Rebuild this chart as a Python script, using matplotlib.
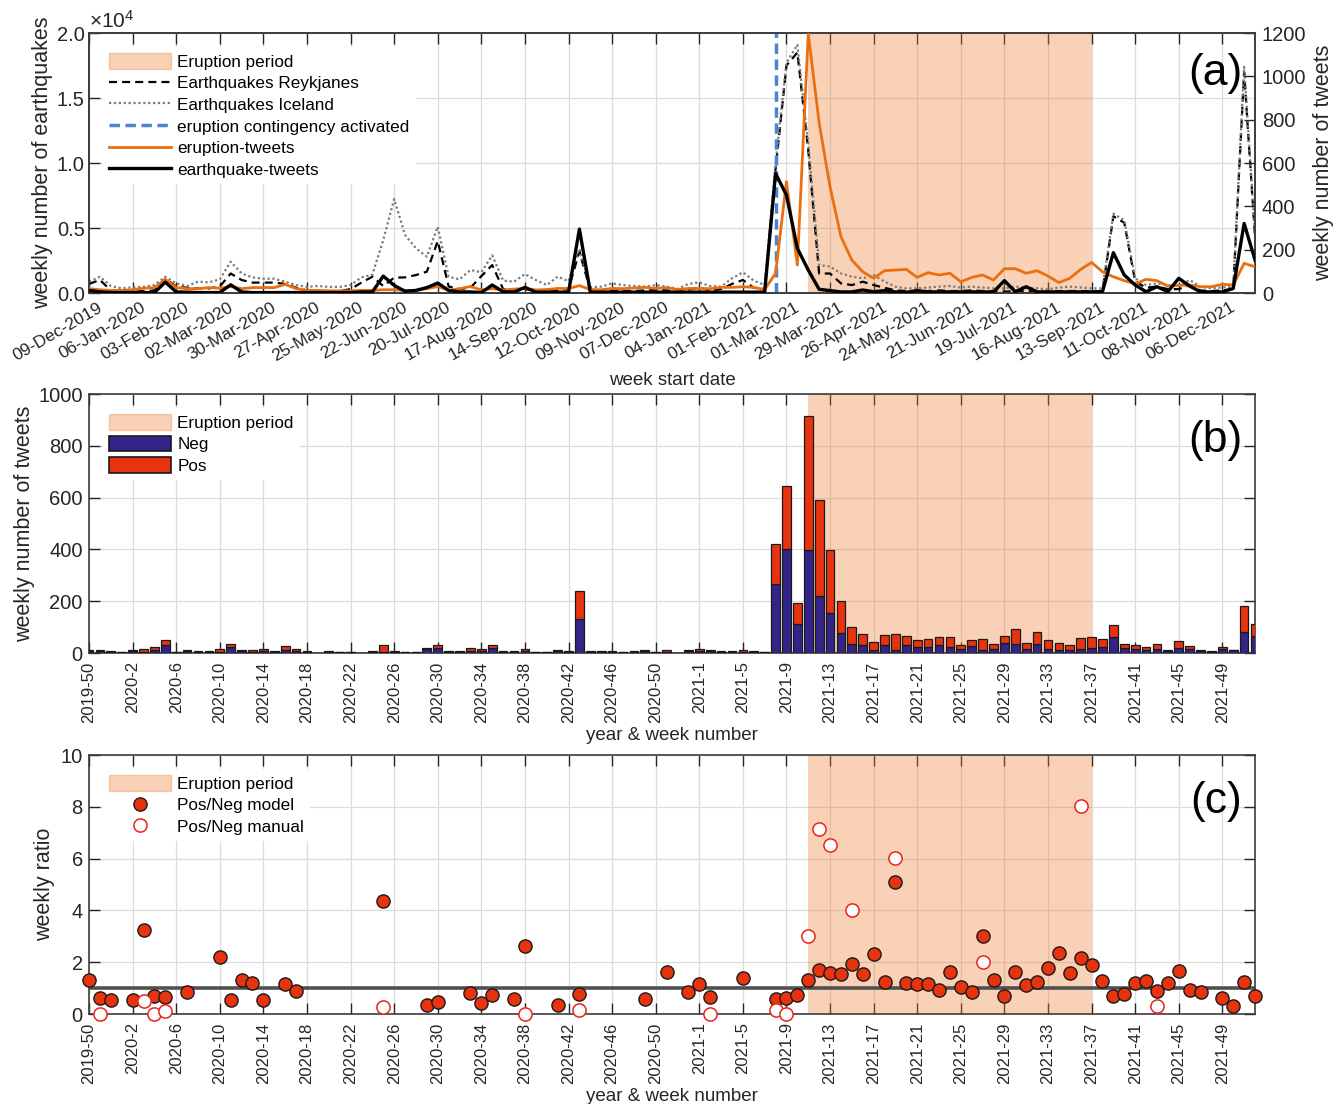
import numpy as np
import matplotlib
matplotlib.use("Agg")
import matplotlib.pyplot as plt
from matplotlib.patches import Patch
from matplotlib.lines import Line2D
from matplotlib.ticker import FuncFormatter
from matplotlib.transforms import ScaledTranslation

plt.rcParams['font.family'] = ['Liberation Sans', 'DejaVu Sans']
plt.rcParams['mathtext.fontset'] = 'custom'
plt.rcParams['mathtext.rm'] = 'Liberation Sans'

N = np.nan

# ---------------- tick labels ----------------
date_ticks = ['09-Dec-2019', '06-Jan-2020', '03-Feb-2020', '02-Mar-2020', '30-Mar-2020',
              '27-Apr-2020', '25-May-2020', '22-Jun-2020', '20-Jul-2020', '17-Aug-2020',
              '14-Sep-2020', '12-Oct-2020', '09-Nov-2020', '07-Dec-2020', '04-Jan-2021',
              '01-Feb-2021', '01-Mar-2021', '29-Mar-2021', '26-Apr-2021', '24-May-2021',
              '21-Jun-2021', '19-Jul-2021', '16-Aug-2021', '13-Sep-2021', '11-Oct-2021',
              '08-Nov-2021', '06-Dec-2021']
week_ticks = ['2019-50', '2020-2', '2020-6', '2020-10', '2020-14', '2020-18', '2020-22',
              '2020-26', '2020-30', '2020-34', '2020-38', '2020-42', '2020-46', '2020-50',
              '2021-1', '2021-5', '2021-9', '2021-13', '2021-17', '2021-21', '2021-25',
              '2021-29', '2021-33', '2021-37', '2021-41', '2021-45', '2021-49']

# ---------------- panel (a) data ----------------
eq_reykjanes = [700, 1000, 200, 100, 100, 150, 200, 1100, 500, 400,
                350, 350, 500, 1500, 1000, 800, 800, 800, 700, 400,
                200, 150, 150, 150, 300, 800, 1250, 540, 1180, 1200,
                1380, 1640, 4000, 500, 300, 400, 1300, 2150, 300, 200,
                300, 200, 150, 250, 300, 3200, 200, 150, 200, 150,
                150, 200, 250, 200, 100, 250, 400, 200, 300, 700,
                1000, 400, 300, 9500, 17500, 18500, 11000, 1500, 1500, 740,
                610, 870, 610, 400, 200, 150, 150, 150, 200, 150,
                150, 200, 150, 150, 100, 150, 150, 100, 100, 150,
                150, 150, 150, 150, 5900, 5400, 900, 400, 500, 300,
                300, 600, 200, 150, 200, 300, 17000, 4300]
eq_iceland = [870, 1250, 540, 360, 440, 470, 610, 1250, 740, 540,
              870, 820, 1050, 2410, 1510, 1200, 1100, 1100, 870, 610,
              470, 540, 470, 470, 610, 1200, 1410, 4080, 7230, 4460,
              3440, 2790, 5100, 1250, 1050, 1770, 1600, 2900, 950, 870,
              1460, 1000, 610, 1260, 900, 3400, 440, 490, 740, 610,
              540, 490, 610, 490, 310, 690, 820, 540, 490, 1130,
              1590, 950, 610, 10000, 17700, 19100, 11500, 2150, 2030, 1510,
              1260, 1130, 1380, 870, 490, 360, 360, 420, 490, 540,
              420, 490, 420, 360, 360, 490, 420, 360, 280, 420,
              490, 420, 360, 360, 6100, 5600, 1130, 610, 740, 610,
              540, 1000, 490, 360, 420, 500, 17400, 4500]
eruption_tweets = [20, 15, 12, 12, 15, 22, 25, 63, 25, 20,
                   20, 25, 22, 30, 20, 25, 25, 25, 40, 20,
                   12, 12, 10, 10, 10, 12, 12, 15, 15, 12,
                   12, 20, 30, 12, 20, 30, 14, 20, 14, 18,
                   21, 14, 16, 21, 21, 34, 16, 15, 21, 20,
                   23, 26, 21, 25, 16, 21, 21, 20, 26, 26,
                   29, 26, 16, 91, 514, 129, 1198, 785, 490, 260,
                   152, 98, 68, 103, 106, 109, 72, 94, 83, 91,
                   52, 72, 83, 60, 112, 112, 91, 103, 78, 48,
                   68, 109, 141, 98, 75, 57, 42, 63, 57, 32,
                   35, 37, 29, 29, 40, 37, 137, 121]
earthquake_tweets = [12, 5, 2, 2, 2, 2, 2, 50, 5, 4,
                     2, 2, 2, 38, 5, 2, 2, 2, 2, 2,
                     2, 2, 2, 2, 2, 5, 5, 78, 35, 8,
                     12, 25, 46, 12, 5, 5, 2, 37, 6, 4,
                     26, 4, 4, 4, 4, 295, 4, 4, 4, 4,
                     4, 4, 4, 4, 4, 4, 4, 4, 4, 4,
                     4, 4, 4, 552, 452, 206, 106, 17, 11, 5,
                     5, 14, 6, 11, 5, 3, 11, 5, 5, 5,
                     5, 5, 5, 5, 57, 6, 29, 5, 5, 5,
                     5, 5, 5, 6, 186, 83, 37, 6, 29, 6,
                     68, 32, 5, 5, 5, 21, 321, 152]

# ---------------- panel (b) data ----------------
neg_tweets = [6, 6, 5, 3, 8, 5, 13, 31, 3, 6,
              5, 5, 5, 23, 6, 5, 8, 4, 12, 8,
              4, 1, 3, 2, 2, 1, 5, 5, 4, 3,
              3, 15, 19, 3, 3, 8, 9, 18, 3, 5,
              6, 3, 2, 6, 5, 133, 3, 5, 5, 3,
              3, 8, 3, 5, 0, 6, 6, 7, 3, 3,
              5, 3, 3, 268, 401, 112, 396, 220, 154, 77,
              33, 31, 12, 31, 10, 31, 23, 23, 31, 23,
              15, 27, 12, 15, 39, 35, 15, 36, 15, 10,
              10, 15, 19, 23, 62, 18, 15, 10, 15, 6,
              18, 15, 8, 5, 15, 10, 80, 64]
pos_tweets = [7, 6, 4, 2, 5, 12, 10, 19, 2, 4,
              3, 3, 10, 13, 7, 5, 9, 4, 15, 6,
              4, 0, 3, 1, 1, 0, 3, 26, 4, 2,
              1, 6, 12, 3, 3, 10, 8, 13, 3, 3,
              11, 2, 1, 4, 4, 105, 3, 3, 4, 2,
              3, 5, 2, 7, 0, 6, 8, 5, 3, 3,
              7, 3, 2, 153, 245, 81, 520, 369, 242, 122,
              67, 42, 32, 38, 62, 36, 26, 31, 29, 39,
              17, 24, 43, 21, 27, 56, 24, 45, 34, 29,
              21, 42, 44, 31, 46, 15, 17, 13, 18, 4,
              28, 13, 5, 3, 8, 3, 101, 48]

# ---------------- panel (c) data ----------------
ratio_model = [1.33, 0.62, 0.55, N, 0.55, 3.26, 0.71, 0.64, N, 0.84,
               N, N, 2.2, 0.55, 1.33, 1.2, 0.53, N, 1.16, 0.89,
               N, N, N, N, N, N, N, 4.35, N, N,
               N, 0.36, 0.46, N, N, 0.8, 0.42, 0.72, N, 0.58,
               2.61, N, N, 0.33, N, 0.79, N, N, N, N,
               N, 0.58, N, 1.61, N, 0.85, 1.16, 0.64, N, N,
               1.4, N, N, 0.58, 0.62, 0.72, 1.33, 1.69, 1.58, 1.56,
               1.93, 1.54, 2.3, 1.24, 5.1, 1.2, 1.17, 1.16, 0.91, 1.63,
               1.06, 0.86, 3.01, 1.33, 0.68, 1.61, 1.11, 1.22, 1.78, 2.34,
               1.6, 2.16, 1.9, 1.26, 0.68, 0.79, 1.2, 1.27, 0.9, 1.2,
               1.67, 0.94, 0.86, N, 0.62, 0.3, 1.22, 0.68]
ratio_manual = [N, 0.0, N, N, N, 0.49, 0.0, 0.13, N, N,
                N, N, N, N, N, N, N, N, N, N,
                N, N, N, N, N, N, N, 0.26, N, N,
                N, N, N, N, N, N, N, N, N, N,
                0.0, N, N, N, N, 0.14, N, N, N, N,
                N, N, N, N, N, N, N, 0.0, N, N,
                N, N, N, 0.14, 0.0, N, 3.02, 7.16, 6.51, N,
                4.02, N, N, N, 6.02, N, N, N, N, N,
                N, N, 2.0, N, N, N, N, N, N, N,
                N, 8.02, N, N, N, N, N, N, 0.32, N,
                N, N, N, N, N, N, N, N]

eruption_span = (66, 92)      # week positions (2021-11 .. 2021-37)
contingency_week = 63

# ---------------- styling ----------------
ERUPT_C = (0.93, 0.49, 0.19)
ERUPT_A = 0.35
NEG_C = '#33248a'
POS_C = '#e8330f'
ORANGE = '#ea6f10'
BLUE = '#4a86d0'
TXT = '#262626'
SPINE = '#3c3c3c'
YTICK_FS = 14.5
DATE_FS = 12.5
WEEK_FS = 12

x = np.arange(len(eq_iceland))
xt = np.arange(0, len(x), 4)

fig = plt.figure(figsize=(13.43, 11.04), dpi=100)
ax_a = fig.add_axes([0.0663, 0.7346, 0.8682, 0.2355])
ax_b = fig.add_axes([0.0663, 0.4085, 0.8682, 0.2346])
ax_c = fig.add_axes([0.0663, 0.0815, 0.8682, 0.2346])


def style(ax, right=True, ypad=4.5):
    ax.tick_params(axis='both', direction='in', length=8, width=1.0, color=TXT,
                   labelcolor=TXT, top=True, right=right)
    ax.tick_params(axis='y', labelsize=YTICK_FS, pad=ypad)
    for s in ax.spines.values():
        s.set_linewidth(1.2)
        s.set_color(SPINE)
    ax.grid(True, color='#dcdcdc', lw=0.9)
    ax.set_axisbelow(True)
    ax.set_xlim(0, len(x) - 1)


legend_kw = dict(loc='upper left', frameon=True, facecolor='white', edgecolor='none',
                 framealpha=1, fancybox=False, fontsize=12.3, handlelength=3.65,
                 handleheight=1.0, handletextpad=0.35, labelspacing=0.3,
                 borderpad=0.35, borderaxespad=0)

span_handle = Patch(facecolor=ERUPT_C, edgecolor=ERUPT_C, alpha=ERUPT_A, lw=1)

# ================= panel (a) =================
style(ax_a, right=False, ypad=3)
ax_a.axvspan(*eruption_span, color=ERUPT_C, alpha=ERUPT_A, lw=0, zorder=1)
ax_a.plot(x, eq_reykjanes, color='k', lw=1.6, ls=(0, (3.6, 2.3)), zorder=2)
ax_a.plot(x, eq_iceland, color='#7a7a7a', lw=1.6, ls=(0, (1, 1.2)), zorder=2)
ax_a.set_ylim(0, 20000)
ax_a.set_yticks([0, 5000, 10000, 15000, 20000])
ax_a.yaxis.set_major_formatter(FuncFormatter(lambda v, p: f'{v / 1e4:.1f}'))
ax_a.set_xticks(xt)
ax_a.set_xticklabels(date_ticks, rotation=30, ha='right', va='top',
                     rotation_mode='anchor', fontsize=DATE_FS)
ax_a.tick_params(axis='x', pad=5)
off = ScaledTranslation(8 / 100, 0, fig.dpi_scale_trans)
for lab in ax_a.get_xticklabels():
    lab.set_transform(lab.get_transform() + off)
ax_a.set_ylabel('weekly number of earthquakes', fontsize=15.5, color=TXT)
ax_a.yaxis.set_label_coords(-0.031, 0.5)
ax_a.set_xlabel('week start date', fontsize=13.5, color=TXT)
ax_a.xaxis.set_label_coords(0.5, -0.305)
ax_a.text(0.0, 1.005, r'$\mathrm{\times10^{4}}$', transform=ax_a.transAxes,
          fontsize=15, ha='left', va='bottom', color=TXT)

ax2 = ax_a.twinx()
ax2.axvline(contingency_week, color=BLUE, lw=2.5, ls=(0, (3, 1.6)), zorder=2)
ax2.plot(x, eruption_tweets, color=ORANGE, lw=2.0, zorder=3)
ax2.plot(x, earthquake_tweets, color='k', lw=2.4, zorder=4)
ax2.set_ylim(0, 1200)
ax2.set_yticks(np.arange(0, 1201, 200))
ax2.tick_params(axis='y', direction='in', length=8, width=1.0, color=TXT,
                labelcolor=TXT, labelsize=YTICK_FS, pad=5)
for s in ax2.spines.values():
    s.set_linewidth(1.2)
    s.set_color(SPINE)
ax2.set_ylabel('weekly number of tweets', fontsize=15.5, color=TXT)
ax2.yaxis.set_label_coords(1.050, 0.5)
ax2.set_xlim(0, len(x) - 1)

ax2.legend([span_handle,
            Line2D([], [], color='k', lw=1.6, ls=(0, (3.6, 2.3))),
            Line2D([], [], color='#7a7a7a', lw=1.6, ls=(0, (1, 1.2))),
            Line2D([], [], color=BLUE, lw=2.5, ls=(0, (3, 1.6))),
            Line2D([], [], color=ORANGE, lw=2.0),
            Line2D([], [], color='k', lw=2.4)],
           ['Eruption period', 'Earthquakes Reykjanes', 'Earthquakes Iceland',
            'eruption contingency activated', 'eruption-tweets', 'earthquake-tweets'],
           bbox_to_anchor=(0.012, 0.945), **legend_kw)
ax2.text(0.989, 0.925, '(a)', transform=ax2.transAxes, ha='right', va='top',
         fontsize=32, color='k', zorder=6)

# ================= panel (b) =================
style(ax_b)
ax_b.axvspan(*eruption_span, color=ERUPT_C, alpha=ERUPT_A, lw=0, zorder=1)
ax_b.bar(x, neg_tweets, width=0.8, color=NEG_C, edgecolor='#1a1a1a', lw=0.9, zorder=3)
ax_b.bar(x, pos_tweets, width=0.8, bottom=neg_tweets, color=POS_C, edgecolor='#1a1a1a',
         lw=0.9, zorder=3)
ax_b.set_ylim(0, 1000)
ax_b.set_yticks(np.arange(0, 1001, 200))
ax_b.set_xticks(xt)
ax_b.set_xticklabels(week_ticks, rotation=90, fontsize=WEEK_FS)
ax_b.tick_params(axis='x', pad=6)
ax_b.set_ylabel('weekly number of tweets', fontsize=15.5, color=TXT)
ax_b.yaxis.set_label_coords(-0.046, 0.5)
ax_b.set_xlabel('year & week number', fontsize=13.5, color=TXT)
ax_b.xaxis.set_label_coords(0.5, -0.285)
ax_b.legend([span_handle,
             Patch(facecolor=NEG_C, edgecolor='#1a1a1a', lw=1.2),
             Patch(facecolor=POS_C, edgecolor='#1a1a1a', lw=1.2)],
            ['Eruption period', 'Neg', 'Pos'], bbox_to_anchor=(0.012, 0.945), **legend_kw)
ax_b.text(0.989, 0.9, '(b)', transform=ax_b.transAxes, ha='right', va='top',
          fontsize=32, color='k', zorder=6)

# ================= panel (c) =================
style(ax_c)
ax_c.axvspan(*eruption_span, color=ERUPT_C, alpha=ERUPT_A, lw=0, zorder=1)
ax_c.axhline(1, color='#505050', lw=2.6, zorder=2)
ax_c.plot(x, ratio_model, ls='none', marker='o', ms=9.5, mfc=POS_C, mec='#1a1a1a',
          mew=1.0, clip_on=False, zorder=4)
ax_c.plot(x, ratio_manual, ls='none', marker='o', ms=9.5, mfc='white', mec='#e8251a',
          mew=1.1, clip_on=False, zorder=5)
ax_c.set_ylim(0, 10)
ax_c.set_yticks(np.arange(0, 11, 2))
ax_c.set_xticks(xt)
ax_c.set_xticklabels(week_ticks, rotation=90, fontsize=WEEK_FS)
ax_c.tick_params(axis='x', pad=6)
ax_c.set_ylabel('weekly ratio', fontsize=15.5, color=TXT)
ax_c.yaxis.set_label_coords(-0.029, 0.5)
ax_c.set_xlabel('year & week number', fontsize=13.5, color=TXT)
ax_c.xaxis.set_label_coords(0.5, -0.285)
ax_c.legend([span_handle,
             Line2D([], [], ls='none', marker='o', ms=9.5, mfc=POS_C, mec='#1a1a1a', mew=1.0),
             Line2D([], [], ls='none', marker='o', ms=9.5, mfc='white', mec='#e8251a', mew=1.1)],
            ['Eruption period', 'Pos/Neg model', 'Pos/Neg manual'],
            bbox_to_anchor=(0.012, 0.945), **legend_kw)
ax_c.text(0.989, 0.9, '(c)', transform=ax_c.transAxes, ha='right', va='top',
          fontsize=32, color='k', zorder=6)

fig.savefig('out.png', dpi=100)
